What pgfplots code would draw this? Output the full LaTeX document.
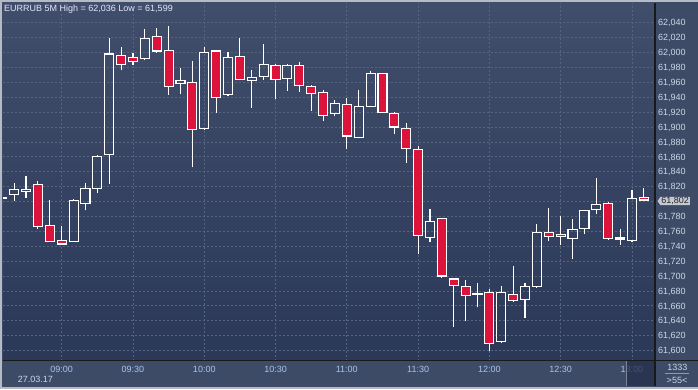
\documentclass[border=0pt]{standalone}
\usepackage{fontspec}
\setmainfont{Liberation Sans}
\usepackage{pgfplots}
\pgfplotsset{compat=1.18}
\usetikzlibrary{shapes.symbols}
\definecolor{candred}{HTML}{DC143C}
\definecolor{bgtop}{HTML}{404E6B}
\definecolor{bgbot}{HTML}{2B3858}
\definecolor{strip}{HTML}{3E4B67}
\definecolor{gridc}{HTML}{56657F}
\definecolor{lbl}{HTML}{CCD6E6}
\definecolor{xlbl}{HTML}{A8C4EA}
\definecolor{framec}{HTML}{B4BAC6}
\definecolor{tagc}{HTML}{C4C8D0}
\definecolor{shadec}{HTML}{222E4A}
% #1 position, #2 body bottom, #3 body top, #4 low, #5 high, #6 fill
\newcommand{\candle}[6]{%
 \pgfmathsetmacro\xa{#1-0.38}\pgfmathsetmacro\xb{#1+0.38}%
 \edef\doit{%
 \noexpand\addplot[draw=white, line width=1.1pt, forget plot] coordinates {(#1,#4) (#1,#2)};
 \noexpand\addplot[draw=white, line width=1.1pt, forget plot] coordinates {(#1,#3) (#1,#5)};
 \noexpand\addplot[draw=white, fill=#6, line width=1.1pt, forget plot] coordinates {(\xa,#2) (\xb,#2) (\xb,#3) (\xa,#3)} -- cycle;
 }\doit}
% open, high, low, close
\newcommand{\candleup}[5]{\candle{#1}{#2}{#5}{#4}{#3}{none}}
\newcommand{\candledn}[5]{\candle{#1}{#5}{#2}{#4}{#3}{candred}}
\begin{document}
\begin{tikzpicture}[x=1pt,y=1pt]
\useasboundingbox (0,0) rectangle (698,389);
\fill[strip] (0,0) rectangle (698,389);
\begin{axis}[at={(3pt,28.5pt)}, anchor=south west, width=652pt, height=357.5pt, scale only axis,
  xmin=-4.94, xmax=49.94, ymin=61586.6, ymax=62066.5,
  axis background/.style={top color=bgtop, bottom color=bgbot},
  axis line style={draw=none},
  major tick length=0pt,
  xtick={0,6,...,48},
  xticklabels={09:00,09:30,10:00,10:30,11:00,11:30,12:00,12:30,13:00},
  ytick={61600,61620,61640,61660,61680,61700,61720,61740,61760,61780,61820,61840,61860,61880,61900,61920,61940,61960,61980,62000,62020,62040},
  extra y ticks={61800},
  extra y tick labels={},
  extra y tick style={grid=major, major tick length=0pt},
  yticklabel pos=right,
  scaled y ticks=false,
  /pgf/number format/1000 sep={,},
  /pgf/number format/fixed,
  /pgf/number format/precision=0,
  /pgf/number format/assume math mode=true,
  grid=major,
  grid style={gridc, dash pattern=on 2pt off 2pt, line width=0.8pt},
  xticklabel style={font=\fontsize{9}{10}\selectfont, text=xlbl, anchor=base, yshift=-11.8pt},
  yticklabel style={font=\fontsize{9}{10}\selectfont, text=lbl, anchor=base west, inner sep=0pt, xshift=3pt, yshift=-3.2pt},
]
\candleup{-5}{61804.5}{61805.5}{61804.5}{61805.5}
\candleup{-4}{61809}{61825}{61801}{61816}
\candleup{-3}{61813}{61834}{61805}{61816}
\candledn{-2}{61823}{61828}{61763}{61766}
\candledn{-1}{61768}{61802}{61746}{61746}
\candledn{0}{61748}{61767}{61742}{61743}
\candleup{1}{61746}{61803}{61746}{61801}
\candleup{2}{61797}{61825}{61788}{61817}
\candleup{3}{61817}{61862}{61811}{61861}
\candleup{4}{61863}{62019}{61824}{61998}
\candledn{5}{61996}{62008}{61976}{61984}
\candledn{6}{61993}{62000}{61983}{61988}
\candleup{7}{61992}{62031}{61990}{62019}
\candledn{8}{62022}{62033}{62000}{62002}
\candledn{9}{62003}{62036}{61943}{61954}
\candleup{10}{61958}{61979}{61944}{61963}
\candledn{11}{61960}{61988}{61846}{61897}
\candleup{12}{61898}{62008}{61896}{62000}
\candledn{13}{62002}{62003}{61919}{61940}
\candleup{14}{61944}{62001}{61942}{61993}
\candledn{15}{61995}{62019}{61963}{61964}
\candleup{16}{61963}{61976}{61926}{61967}
\candleup{17}{61968}{62011}{61963}{61984}
\candledn{18}{61983}{61985}{61938}{61964}
\candleup{19}{61965}{61985}{61949}{61983}
\candledn{20}{61983}{61987}{61947}{61956}
\candledn{21}{61954}{61956}{61922}{61945}
\candledn{22}{61946}{61950}{61908}{61916}
\candleup{23}{61918}{61936}{61915}{61932}
\candledn{24}{61930}{61939}{61870}{61888}
\candleup{25}{61886}{61950}{61885}{61928}
\candleup{26}{61927}{61975}{61927}{61972}
\candledn{27}{61972}{61972}{61919}{61920}
\candledn{28}{61918}{61920}{61891}{61900}
\candledn{29}{61898}{61905}{61852}{61871}
\candledn{30}{61870}{61874}{61730}{61754}
\candleup{31}{61752}{61790}{61746}{61773}
\candledn{32}{61777}{61777}{61698}{61700}
\candledn{33}{61696}{61697}{61632}{61687}
\candledn{34}{61686}{61695}{61639}{61674}
\candleup{35}{61675}{61691}{61658}{61676}
\candledn{36}{61678}{61682}{61599}{61609}
\candleup{37}{61612}{61686}{61611}{61678}
\candledn{38}{61675}{61713}{61666}{61667}
\candleup{39}{61668}{61691}{61643}{61686}
\candleup{40}{61686}{61770}{61684}{61758}
\candledn{41}{61758}{61791}{61747}{61753}
\candledn{42}{61756}{61780}{61742}{61753}
\candleup{43}{61750}{61777}{61723}{61763}
\candleup{44}{61764}{61789}{61756}{61788}
\candleup{45}{61789}{61831}{61783}{61796}
\candledn{46}{61797}{61800}{61749}{61750}
\candleup{47}{61749}{61763}{61742}{61751}
\candleup{48}{61748}{61816}{61746}{61804}
\candledn{49}{61805}{61818}{61801}{61802}
\coordinate (tag) at (axis cs:49.94,61800.6);
\end{axis}
\fill[shadec, opacity=0.75] (626,3) rectangle (655,28.5);
\draw[gridc!80!white, line width=0.6pt] (626,3) -- (626,28.5);
\draw[black!90, line width=1.3pt] (655,3) -- (655,386);
\draw[black!90, line width=1.3pt] (3,28.5) -- (698,28.5);
\node[signal, signal to=west, signal pointer angle=110, fill=tagc, text=black!85, font=\fontsize{9}{10}\selectfont, inner xsep=1pt, inner ysep=0.4pt, anchor=west] at ([xshift=2.3pt]tag) {61,802};
\node[anchor=base west, inner sep=0pt, text=white!90!blue, font=\fontsize{9}{10}\selectfont] at (4,377.2) {EURRUB 5M High = 62,036 Low = 61,599};
\node[anchor=base west, inner sep=0pt, text=lbl, font=\fontsize{9}{10}\selectfont] at (17.7,6.3) {27.03.17};
\node[anchor=base, inner sep=0pt, text=lbl, font=\fontsize{9}{10}\selectfont] at (677.3,18.3) {1333};
\draw[gray!80, line width=0.7pt] (665,15.7) -- (689,15.7);
\node[anchor=base, inner sep=0pt, text=lbl, font=\fontsize{9}{10}\selectfont] at (677,5.7) {>55<};
\fill[framec] (0,386.5) rectangle (698,389);
\fill[framec] (0,0) rectangle (698,2.3);
\fill[framec] (0,0) rectangle (2.3,389);
\end{tikzpicture}
\end{document}
